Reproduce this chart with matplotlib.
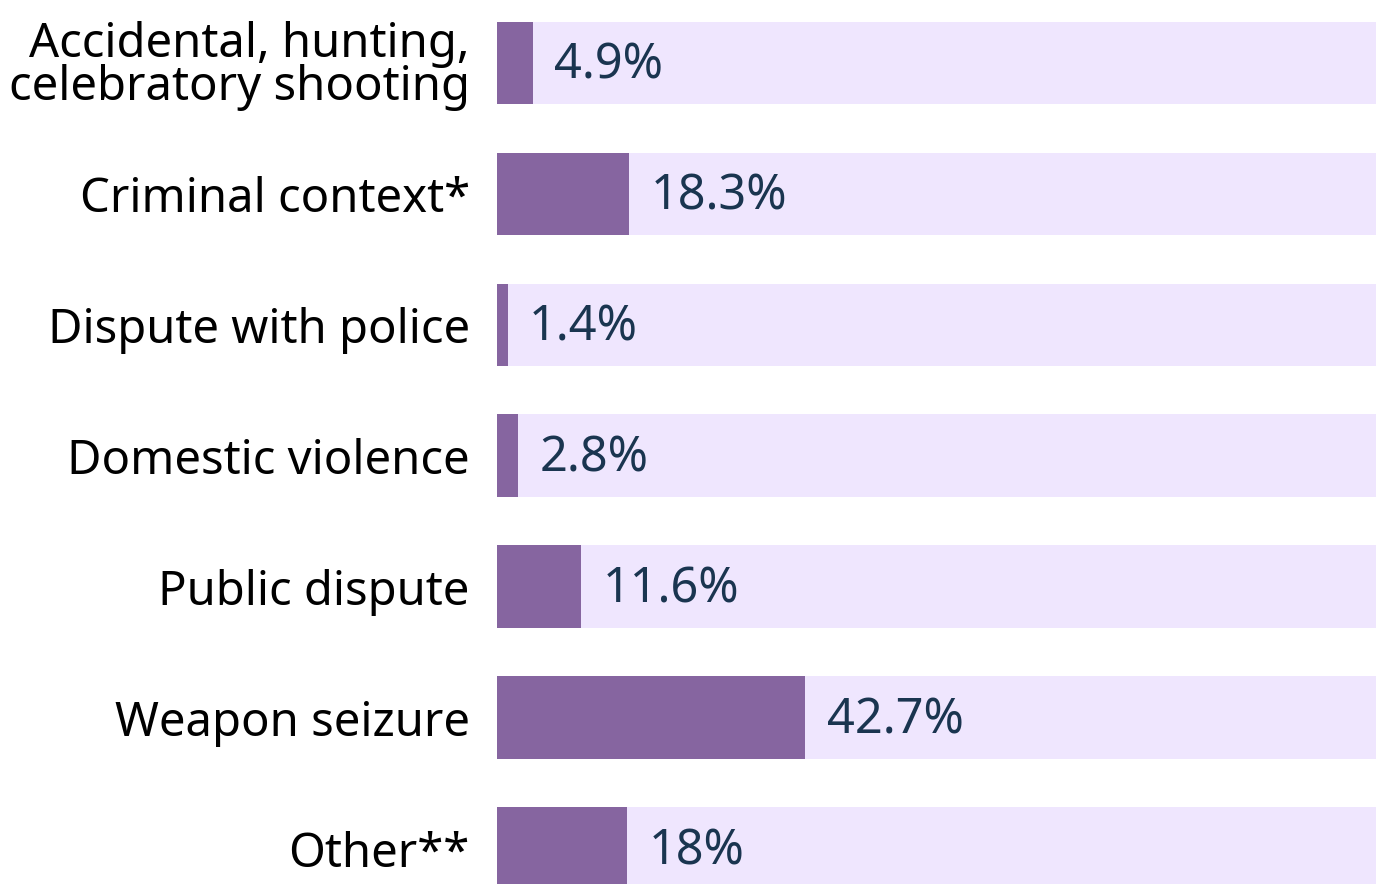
import matplotlib
matplotlib.use('Agg')
import matplotlib.pyplot as plt
import numpy as np

# data
categories = ['Accidental, hunting,\ncelebratory shooting', 'Criminal context*',
              'Dispute with police', 'Domestic violence', 'Public dispute',
              'Weapon seizure', 'Other**']
values = [4.9, 18.3, 1.4, 2.8, 11.6, 42.7, 18.0]
value_labels = ['4.9%', '18.3%', '1.4%', '2.8%', '11.6%', '42.7%', '18%']

bar_color = '#8665a0'
bg_color = '#efe6fe'
text_color = '#1a3550'

plt.rcParams['font.family'] = ['Noto Sans', 'DejaVu Sans']

fig = plt.figure(figsize=(13.76, 8.84), dpi=100)
ax = fig.add_axes([0.3615, 0.0, 0.6385, 1.0])

y = np.arange(len(categories))
xmax = 122
ax.barh(y, [xmax * 2] * len(y), height=0.63, color=bg_color)
ax.barh(y, values, height=0.63, color=bar_color)

for yi, v, lab in zip(y, values, value_labels):
    ax.text(v + 3.0, yi + 0.02, lab, va='center', ha='left', fontsize=35,
            color=text_color)

ax.set_xlim(0, xmax)
ax.set_ylim(6.27, -0.48)
ax.set_yticks(y)
ax.set_yticklabels(categories, fontsize=34, linespacing=0.88)
ax.tick_params(axis='y', length=0, pad=20)
ax.set_xticks([])
for s in ax.spines.values():
    s.set_visible(False)

fig.savefig('out.png', dpi=100)
